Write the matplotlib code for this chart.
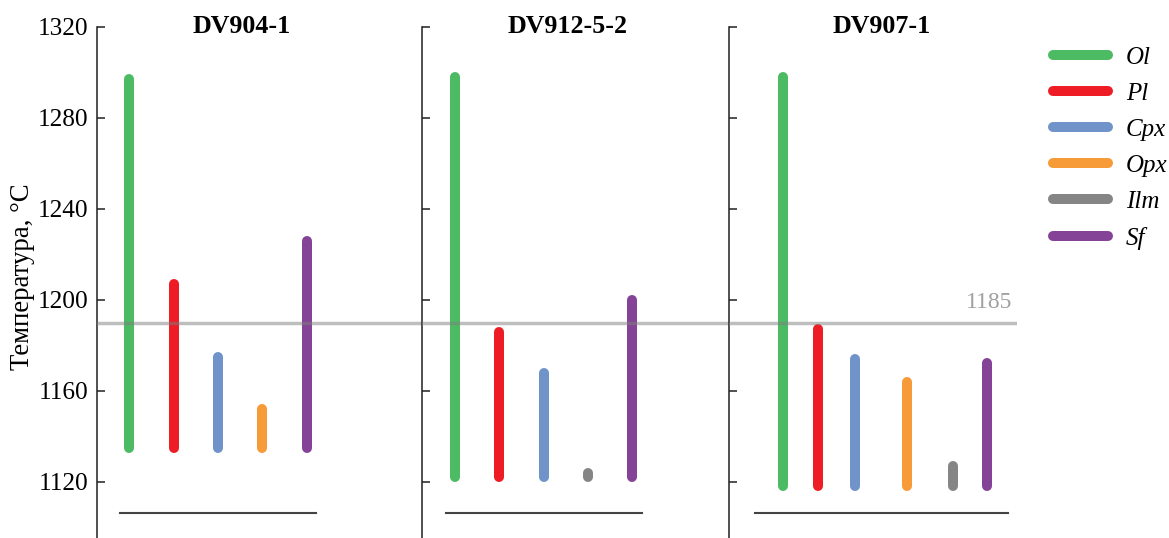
import matplotlib
matplotlib.use("Agg")
import matplotlib.pyplot as plt
from matplotlib.lines import Line2D

plt.rcParams['font.family'] = ['Liberation Serif', 'DejaVu Serif']

minerals = ['Ol', 'Pl', 'Cpx', 'Opx', 'Ilm', 'Sf']
mineral_colors = ['#4dbb64', '#ee1c25', '#7093c9', '#f79a38', '#858585', '#844396']

samples = ['DV904-1', 'DV912-5-2', 'DV907-1']

# DV904-1
dv904_min = ['Ol', 'Pl', 'Cpx', 'Opx', 'Sf']
dv904_x = [1, 2, 3, 4, 5]
dv904_lo = [1135, 1135, 1135, 1135, 1135]
dv904_hi = [1297, 1207, 1175, 1152, 1226]

# DV912-5-2
dv912_min = ['Ol', 'Pl', 'Cpx', 'Ilm', 'Sf']
dv912_x = [1, 2, 3, 4, 5]
dv912_lo = [1122, 1122, 1122, 1122, 1122]
dv912_hi = [1298, 1186, 1168, 1124, 1200]

# DV907-1
dv907_min = ['Ol', 'Pl', 'Cpx', 'Opx', 'Ilm', 'Sf']
dv907_x = [1.49, 2.27, 3.10, 4.27, 5.31, 6.08]
dv907_lo = [1118, 1118, 1118, 1118, 1118, 1118]
dv907_hi = [1298, 1187, 1174, 1164, 1127, 1172]

ref_temp = 1190
ref_label = '1185'
yticks = [1120, 1160, 1200, 1240, 1280, 1320]

panels = [
    (dv904_min, dv904_x, dv904_lo, dv904_hi),
    (dv912_min, dv912_x, dv912_lo, dv912_hi),
    (dv907_min, dv907_x, dv907_lo, dv907_hi),
]

W, H = 1169, 538
fig = plt.figure(figsize=(W / 100, H / 100), dpi=100)

px_unit = 44.3
x0 = 0.263
# axes left/right edges in pixels
edges = [(96.7, 422.3), (422.3, 729), (729, 1017)]
base_span = [(0.79, 5.21), (0.80, 5.22), (0.85, 6.57)]
title_x = [3.54, 3.55, 3.70]
ytop = 26.7

color_of = dict(zip(minerals, mineral_colors))

axes = []
for i, (mins, xs, lo, hi) in enumerate(panels):
    l, r = edges[i]
    ax = fig.add_axes([l / W, 0, (r - l) / W, 1 - ytop / H])
    ax.set_xlim(x0, x0 + (r - l) / px_unit)
    ax.set_ylim(1095.3, 1320)
    for m, x, a, b in zip(mins, xs, lo, hi):
        ax.plot([x, x], [a, b], color=color_of[m], lw=7.2,
                solid_capstyle='round', zorder=2)
    ax.axhline(ref_temp, color='#7f7f7f', alpha=0.5, lw=2.5, zorder=3)
    ax.plot(base_span[i], [1106.1, 1106.1], color='#444444', lw=1.5, clip_on=False)
    ax.text(title_x[i], 1320, samples[i], ha='center', va='center',
            fontsize=18.7, fontweight='bold')
    for s in ['top', 'right', 'bottom']:
        ax.spines[s].set_visible(False)
    ax.spines['left'].set_color('#231f20')
    ax.spines['left'].set_linewidth(1.1)
    ax.set_xticks([])
    ax.set_yticks(yticks)
    ax.tick_params(axis='y', direction='in', length=6, width=1.1,
                   color='#231f20', labelsize=18.2, pad=6)
    if i > 0:
        ax.set_yticklabels([])
    ax.patch.set_alpha(0)
    axes.append(ax)

axes[2].text(axes[2].get_xlim()[1] - 0.1, 1198.6, ref_label, ha='right',
             va='center', fontsize=17, color='#a0a0a0')

fig.text(23 / W, 1 - 276.5 / H, 'Температура, °C', rotation=90,
         ha='center', va='center', fontsize=19.3)

handles = [Line2D([0], [0], color=c, lw=7.2, solid_capstyle='round')
           for c in mineral_colors]
leg = fig.legend(handles, minerals, loc='upper left',
                 bbox_to_anchor=(1053 / W, 1 - 46.7 / H), frameon=False,
                 handlelength=2.2, handletextpad=0.72, labelspacing=0.54,
                 borderpad=0, borderaxespad=0,
                 prop={'family': 'Liberation Serif', 'style': 'italic', 'size': 18})

fig.savefig('out.png', dpi=100)
